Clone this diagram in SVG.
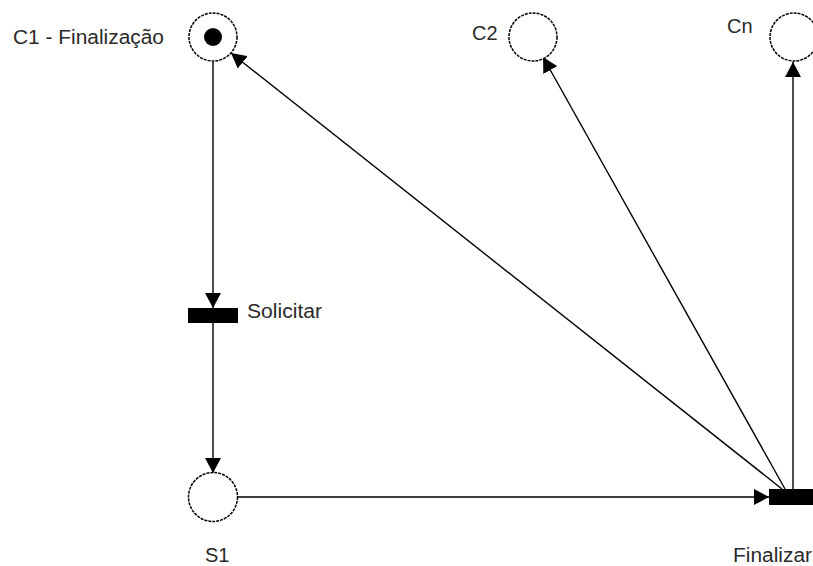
<svg xmlns="http://www.w3.org/2000/svg" width="813" height="566" viewBox="0 0 813 566">
<defs>
<style>
.place{fill:#fff;stroke:#000;stroke-width:1.5;stroke-dasharray:3 1}
.trans{fill:#000}
.lbl{font-family:"Liberation Sans",Arial,sans-serif;font-size:20px;fill:#2a2a2a}
.arc{stroke:#000;stroke-width:1.4;fill:none;marker-end:url(#ah)}
</style>
<marker id="ah" viewBox="0 0 15 16" refX="15" refY="8" markerWidth="15" markerHeight="16" markerUnits="userSpaceOnUse" orient="auto">
<path d="M0,0 L15,8 L0,16 Z" fill="#000"/>
</marker>
</defs>
<rect width="813" height="566" fill="#fff"/>
<g id="connectors">
<line class="arc" x1="213" y1="62" x2="213" y2="308"/>
<line class="arc" x1="213" y1="323" x2="213" y2="473"/>
<line class="arc" x1="238" y1="497" x2="769" y2="497"/>
<line class="arc" x1="782" y1="489" x2="231" y2="53"/>
<line class="arc" x1="785" y1="489" x2="543" y2="57"/>
<line class="arc" x1="793" y1="489" x2="793" y2="62"/>
</g>
<g id="C1">
<circle class="place" cx="213" cy="37" r="24"/>
<circle cx="213" cy="37" r="9" fill="#000"/>
<text class="lbl" x="13" y="44" textLength="151" lengthAdjust="spacingAndGlyphs">C1 - Finalização</text>
</g>
<g id="C2">
<circle class="place" cx="533" cy="37" r="24"/>
<text class="lbl" x="472" y="40">C2</text>
</g>
<g id="Cn">
<circle class="place" cx="794" cy="37" r="24"/>
<text class="lbl" x="727" y="33">Cn</text>
</g>
<g id="Solicitar">
<rect class="trans" x="188" y="308" width="50" height="15"/>
<text class="lbl" x="247" y="318" textLength="75" lengthAdjust="spacingAndGlyphs">Solicitar</text>
</g>
<g id="S1">
<circle class="place" cx="213" cy="497" r="24.5"/>
<text class="lbl" x="205" y="562">S1</text>
</g>
<g id="Finalizar">
<rect class="trans" x="769" y="489" width="50" height="16"/>
<text class="lbl" x="733" y="562" textLength="79" lengthAdjust="spacingAndGlyphs">Finalizar</text>
</g>
</svg>
